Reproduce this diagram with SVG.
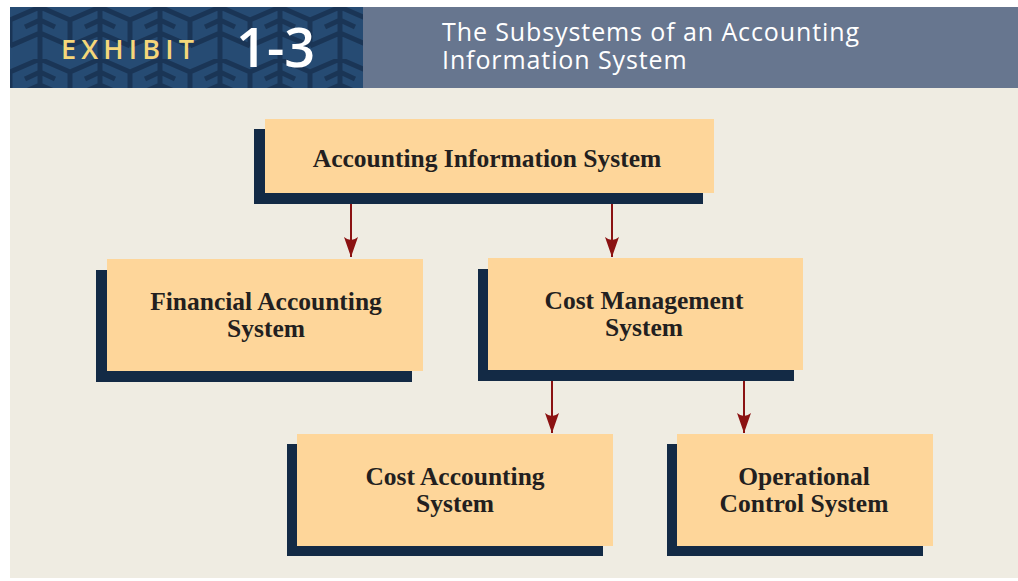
<svg xmlns="http://www.w3.org/2000/svg" width="1018" height="581" viewBox="0 0 1018 581">
<style>
.shadow{fill:#132a45}
.box{fill:#fed69a}
.lbl{font-family:"Liberation Serif","Times New Roman",serif;font-weight:bold;font-size:25.5px;fill:#231f20;text-anchor:middle}
.conn{stroke:#8b1212;stroke-width:2;fill:none}
</style>
<defs>
<pattern id="geo" x="10" y="7" width="60" height="52" patternUnits="userSpaceOnUse">
<rect width="60" height="52" fill="#264b73"/>
<path d="M0 13 L30 0 L60 13 M0 39 L30 26 L60 39 M30 0 V26 M0 13 V39 M60 13 V39 M15 20 L30 13 L45 20 M30 26 V52" stroke="#1a3556" stroke-width="5" fill="none"/>
</pattern>
<marker id="arr" viewBox="0 0 20 14" refX="20" refY="7" markerWidth="20" markerHeight="14" markerUnits="userSpaceOnUse" orient="auto">
<path d="M0 0 Q6 7 0 14 L20 7 Z" fill="#8b1212"/>
</marker>
</defs>
<rect x="0" y="0" width="1018" height="581" fill="#ffffff"/>
<rect x="10" y="88" width="1008" height="490" fill="#efece2"/>
<g id="header">
<rect x="10" y="7" width="353" height="81" fill="url(#geo)"/>
<rect x="363" y="7" width="655" height="81" fill="#67768f"/>
<text x="61" y="59" font-family="'Open Sans','Liberation Sans',sans-serif" font-size="27" font-weight="600" letter-spacing="5.2" fill="#f5d77a">EXHIBIT</text>
<text x="236" y="67" font-family="'Open Sans','Liberation Sans',sans-serif" font-size="54" font-weight="600" fill="#ffffff">1-3</text>
<text x="442" y="41" font-family="'Open Sans','Liberation Sans',sans-serif" font-size="25" font-weight="500" letter-spacing="0.9" fill="#ffffff">The Subsystems of an Accounting</text>
<text x="442" y="69" font-family="'Open Sans','Liberation Sans',sans-serif" font-size="25" font-weight="500" letter-spacing="0.9" fill="#ffffff">Information System</text>
</g>
<g id="connectors">
<line class="conn" x1="351" y1="204" x2="351" y2="257" marker-end="url(#arr)"/>
<line class="conn" x1="612" y1="204" x2="612" y2="257" marker-end="url(#arr)"/>
<line class="conn" x1="552" y1="381" x2="552" y2="433" marker-end="url(#arr)"/>
<line class="conn" x1="744" y1="381" x2="744" y2="433" marker-end="url(#arr)"/>
</g>
<g id="ais">
<rect class="shadow" x="254" y="129" width="449" height="75"/>
<rect class="box" x="265" y="119" width="449" height="74"/>
<text class="lbl" x="487" y="167">Accounting Information System</text>
</g>
<g id="fas">
<rect class="shadow" x="96" y="270" width="316" height="112"/>
<rect class="box" x="107" y="259" width="316" height="112"/>
<text class="lbl" x="266" y="310">Financial Accounting</text>
<text class="lbl" x="266" y="337">System</text>
</g>
<g id="cms">
<rect class="shadow" x="478" y="269" width="316" height="112"/>
<rect class="box" x="488" y="258" width="315" height="112"/>
<text class="lbl" x="644" y="309">Cost Management</text>
<text class="lbl" x="644" y="336">System</text>
</g>
<g id="cas">
<rect class="shadow" x="287" y="444" width="316" height="112"/>
<rect class="box" x="297" y="434" width="316" height="112"/>
<text class="lbl" x="455" y="485">Cost Accounting</text>
<text class="lbl" x="455" y="512">System</text>
</g>
<g id="ocs">
<rect class="shadow" x="667" y="444" width="256" height="112"/>
<rect class="box" x="677" y="434" width="256" height="112"/>
<text class="lbl" x="804" y="485">Operational</text>
<text class="lbl" x="804" y="512">Control System</text>
</g>
</svg>
